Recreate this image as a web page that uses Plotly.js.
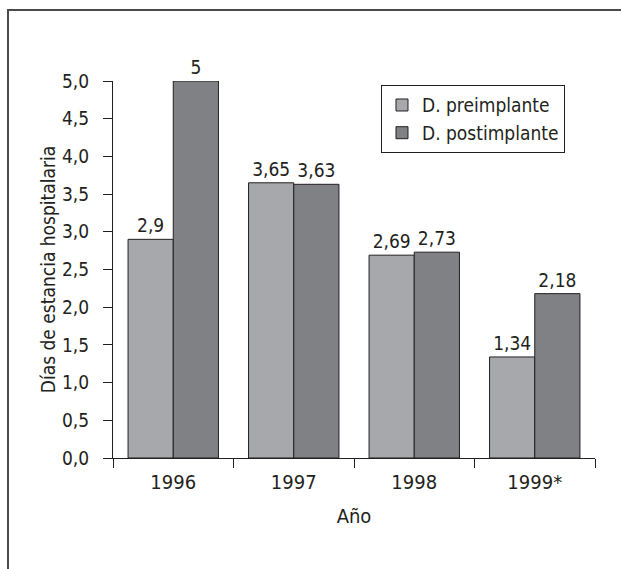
<!DOCTYPE html>
<html>
<head>
<meta charset="utf-8">
<script src="https://cdn.plot.ly/plotly-3.0.1.min.js"></script>
<style>
  html, body { margin: 0; padding: 0; background: #fff; }
  #wrap { position: relative; width: 621px; height: 569px; }
  #chart { position: absolute; left: 0; top: 0; width: 621px; height: 569px; }
  #frame { position: absolute; left: 7px; top: 9px; right: -5px; bottom: -5px;
           border-left: 2px solid #4a4a4a; border-top: 2px solid #4a4a4a; pointer-events: none; }
</style>
</head>
<body>
<div id="wrap">
  <div id="chart"></div>
  <div id="frame"></div>
</div>
<script>
const categories = ["1996", "1997", "1998", "1999*"];
const preimplante = [2.9, 3.65, 2.69, 1.34];
const postimplante = [5, 3.63, 2.73, 2.18];
const preLabels = ["2,9", "3,65", "2,69", "1,34"];
const postLabels = ["5", "3,63", "2,73", "2,18"];
const seriesNames = ["D. preimplante", "D. postimplante"];

const FONT = "Liberation Sans Narrow, DejaVu Sans Condensed, Arial Narrow, sans-serif";
const INK = "#231f20";

const traces = [
  {
    type: "bar", name: seriesNames[0], x: categories, y: preimplante,
    text: preLabels, textposition: "outside", cliponaxis: false,
    textfont: {family: FONT, size: 19, color: INK},
    marker: {color: "#a7a8ab", line: {color: INK, width: 1}}
  },
  {
    type: "bar", name: seriesNames[1], x: categories, y: postimplante,
    text: postLabels, textposition: "outside", cliponaxis: false,
    textfont: {family: FONT, size: 19, color: INK},
    marker: {color: "#808185", line: {color: INK, width: 1}}
  }
];

const layout = {
  width: 621, height: 569,
  margin: {l: 113, r: 26, t: 81, b: 111},
  paper_bgcolor: "#fff", plot_bgcolor: "#fff",
  separators: ",.",
  font: {family: FONT, size: 19, color: INK},
  barmode: "group", bargap: 0.25, bargroupgap: 0,
  showlegend: true,
  legend: {
    x: 0.556, y: 0.989, xanchor: "left", yanchor: "top",
    bordercolor: INK, borderwidth: 1, bgcolor: "#fff",
    font: {family: FONT, size: 19, color: INK},
    tracegroupgap: 0
  },
  xaxis: {
    type: "category", range: [-0.5, 3.5],
    showline: true, linecolor: INK, linewidth: 1,
    ticks: "outside", tickson: "boundaries", ticklen: 9, tickcolor: INK, tickwidth: 1,
    ticklabelstandoff: 6,
    showgrid: false, zeroline: false,
    tickfont: {family: FONT, size: 20, color: INK},
    title: {text: "Año", font: {family: FONT, size: 20, color: INK}, standoff: 15}
  },
  yaxis: {
    range: [0, 5], dtick: 0.5, tick0: 0, tickformat: ".1f",
    showline: true, linecolor: INK, linewidth: 1,
    ticks: "outside", ticklen: 9, tickcolor: INK, tickwidth: 1,
    ticklabelstandoff: 10,
    showgrid: false, zeroline: false,
    tickfont: {family: FONT, size: 19, color: INK},
    title: {text: "Días de estancia hospitalaria", font: {family: FONT, size: 19, color: INK}, standoff: 1}
  }
};

Plotly.newPlot("chart", traces, layout, {displayModeBar: false, staticPlot: true});
</script>
</body>
</html>
